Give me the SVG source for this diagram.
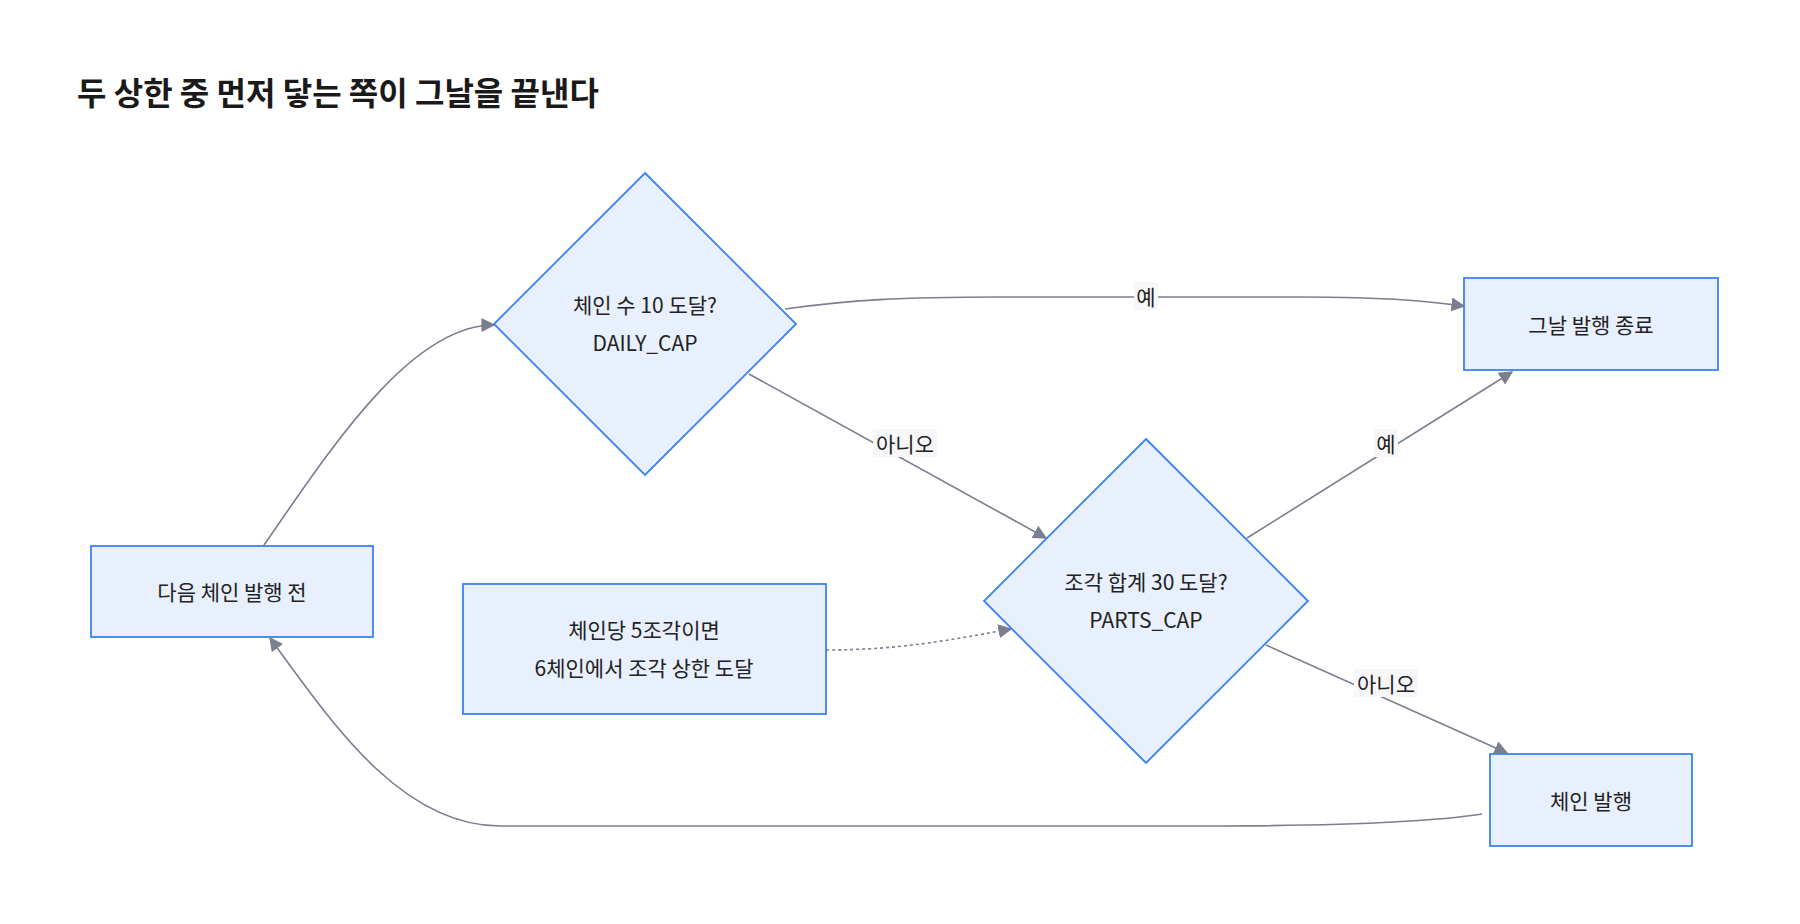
<svg xmlns="http://www.w3.org/2000/svg" width="1800" height="924" viewBox="0 0 1800 924">
<style>
.n{fill:#e8effd;stroke:#3b82f6;stroke-width:1.8}
.t{font-family:"Noto Sans CJK KR","Noto Sans",sans-serif;font-size:21px;fill:#222;text-anchor:middle;dominant-baseline:central}
.e{fill:none;stroke:#7b7e8f;stroke-width:1.6}
.lb{fill:#f7f7fa}
</style>
<defs><marker id="a" viewBox="0 0 10 10" refX="9" refY="5" markerWidth="9" markerHeight="9" orient="auto-start-reverse" markerUnits="userSpaceOnUse"><path d="M0,0L10,5L0,10z" fill="#7b7e8f"/></marker>
<marker id="a2" viewBox="0 0 10 10" refX="9" refY="5" markerWidth="14" markerHeight="14" orient="auto" markerUnits="userSpaceOnUse"><path d="M0,0L10,5L0,10z" fill="#7b7e8f"/></marker></defs>
<rect width="1800" height="924" fill="#fff"/>
<text x="77" y="91" style="font-family:'Noto Sans CJK KR',sans-serif;font-size:32px;font-weight:bold;fill:#1a1a1a" dominant-baseline="central">두 상한 중 먼저 닿는 쪽이 그날을 끝낸다</text>
<g id="connectors">
<path class="e" marker-end="url(#a2)" d="M264,545 C330,450 410,325 494,325"/>
<path class="e" marker-end="url(#a2)" d="M785,309 C850,300 900,297 1000,297 L1300,297 C1400,297 1440,303 1464,306"/>
<path class="e" marker-end="url(#a2)" d="M749,374 L1046,538"/>
<path class="e" marker-end="url(#a2)" d="M1247,538 L1512,372"/>
<path class="e" marker-end="url(#a2)" d="M1266,645 L1507,753"/>
<path class="e" marker-end="url(#a2)" d="M1482,814 C1430,822 1350,826 1200,826 L500,826 C400,826 330,720 270,638"/>
<path class="e" stroke-dasharray="3,3" marker-end="url(#a2)" d="M826,650 C900,650 950,640 1011,629"/>
<rect class="lb" x="1134" y="282" width="24" height="28"/><text class="t" x="1146" y="296">예</text>
<rect class="lb" x="873" y="429" width="64" height="28"/><text class="t" x="905" y="443">아니오</text>
<rect class="lb" x="1374" y="429" width="24" height="28"/><text class="t" x="1386" y="443">예</text>
<rect class="lb" x="1354" y="669" width="64" height="28"/><text class="t" x="1386" y="683">아니오</text>
</g>
<g id="start"><rect class="n" x="91" y="546" width="282" height="91"/><text class="t" x="232" y="591">다음 체인 발행 전</text></g>
<g id="daily"><path class="n" d="M645,173L796,324L645,475L494,324z"/><text class="t" x="645" y="304">체인 수 10 도달?</text><text class="t" x="645" y="342">DAILY_CAP</text></g>
<g id="end"><rect class="n" x="1464" y="278" width="254" height="92"/><text class="t" x="1591" y="324">그날 발행 종료</text></g>
<g id="parts"><path class="n" d="M1146,439L1308,601L1146,763L984,601z"/><text class="t" x="1146" y="581">조각 합계 30 도달?</text><text class="t" x="1146" y="619">PARTS_CAP</text></g>
<g id="note"><rect class="n" x="463" y="584" width="363" height="130"/><text class="t" x="644" y="629">체인당 5조각이면</text><text class="t" x="644" y="667">6체인에서 조각 상한 도달</text></g>
<g id="issue"><rect class="n" x="1490" y="754" width="202" height="92"/><text class="t" x="1591" y="800">체인 발행</text></g>
</svg>
